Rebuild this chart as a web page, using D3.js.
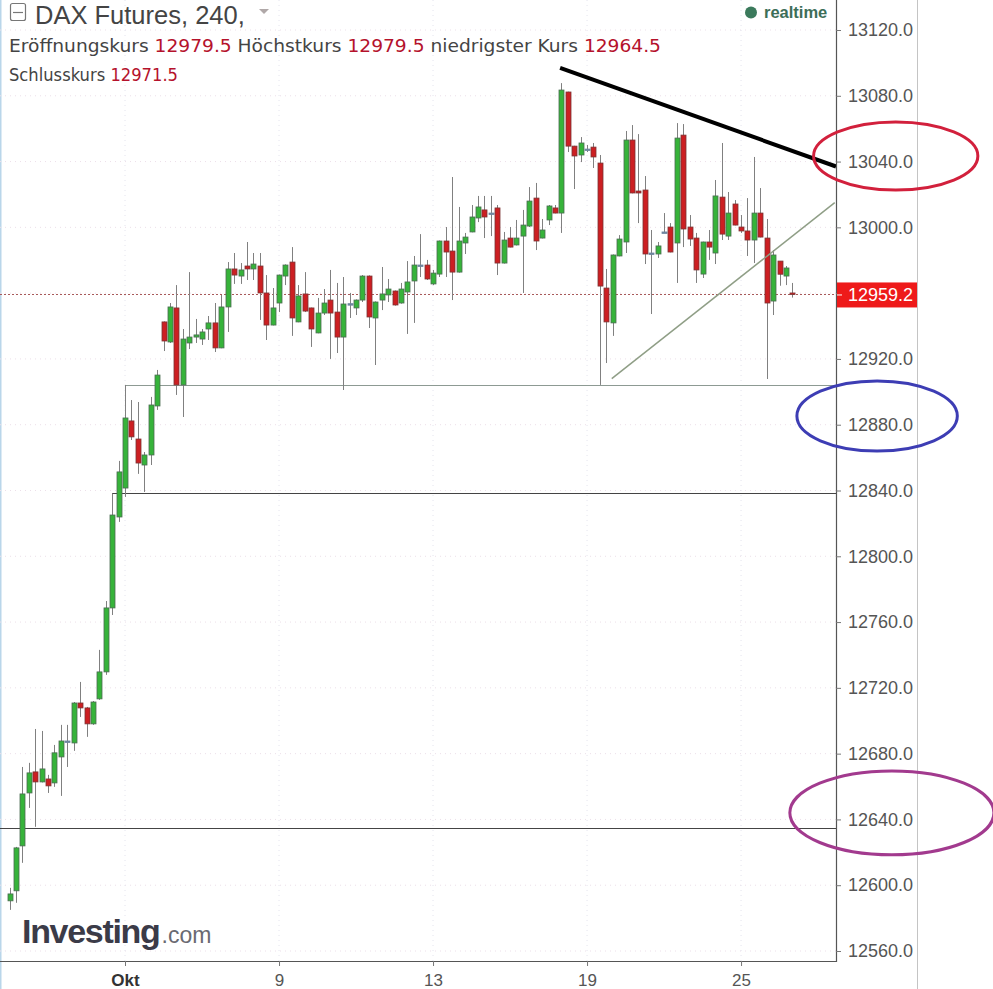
<!DOCTYPE html>
<html>
<head>
<meta charset="utf-8">
<script src="https://cdn.jsdelivr.net/npm/d3@7"></script>
<style>
  html, body { margin: 0; padding: 0; background: #fff; }
  svg { display: block; font-family: "Liberation Sans", Arial, sans-serif; }
</style>
</head>
<body>
<svg id="chart" width="993" height="989"></svg>
<script>
// ---------------- DATA ----------------
const title = "DAX Futures, 240,";
const infoLabels = ["Eröffnungskurs", "Höchstkurs", "niedrigster Kurs", "Schlusskurs"];
const infoValues = ["12979.5", "12979.5", "12964.5", "12971.5"];
const xTickIndex = [18, 42, 66, 90, 114];
const xTickLabels = ["Okt", "9", "13", "19", "25"];
const yTicks = [12560, 12600, 12640, 12680, 12720, 12760, 12800, 12840, 12880, 12920, 12960, 13000, 13040, 13080, 13120];
const lastPrice = 12959.2;

const openVals = [12590.5,12596.6,12623.9,12656.1,12668.9,12662.8,12664.6,12662.2,12678.0,12687.7,
12686.5,12710.8,12707.8,12698.1,12713.3,12729.7,12768.6,12823.9,12841.5,12882.3,
12871.3,12855.5,12861.6,12891.4,12942.5,12930.3,12951.0,12904.2,12929.7,12933.3,
12932.1,12938.2,12941.9,12926.7,12951.6,12974.7,12970.4,12976.5,12974.7,12976.5,
12960.1,12940.6,12954.0,12970.4,12978.9,12942.5,12959.5,12951.0,12935.8,12947.9,
12955.8,12948.5,12933.3,12953.6,12951.0,12955.8,12970.4,12944.9,12955.8,12958.9,
12961.3,12954.0,12960.7,12967.4,12977.1,12977.1,12965.6,12971.6,12991.7,12985.6,
12972.8,12990.5,12997.2,13005.7,13010.6,13008.7,13011.8,12978.3,12993.5,12989.3,
12994.7,13000.8,13017.8,12993.5,13004.5,13011.8,13008.7,13082.3,13049.4,13044.0,
13047.6,13048.8,13039.1,12963.1,12941.9,12982.6,12991.1,13053.1,13022.1,13022.7,
12984.4,12983.8,12997.2,13000.2,12990.5,13056.1,13000.2,12993.5,12971.6,12991.1,
12984.4,13018.4,12994.7,13014.2,13000.2,12997.8,12992.3,13008.7,12993.5,12955.2,
12979.5,12970.4,12960.1];
const highVals = [12598.4,12623.3,12671.9,12674.4,12695.0,12693.8,12667.1,12685.3,12697.5,12697.5,
12711.4,12723.6,12708.4,12712.0,12743.1,12772.8,12837.9,12858.0,12904.2,12895.0,
12893.8,12863.4,12896.9,12913.3,12942.8,12954.0,12964.9,12938.2,12972.8,12944.3,
12938.2,12946.1,12954.0,12958.9,12978.9,12984.4,12978.3,12991.1,12984.4,12984.4,
12971.0,12963.1,12971.3,12977.5,12988.0,12964.9,12972.8,12951.2,12957.1,12962.5,
12974.1,12966.2,12969.8,12960.1,12956.2,12971.0,12970.8,12955.0,12975.9,12968.6,
12961.6,12966.2,12979.5,12982.6,12995.9,12980.2,12974.1,12992.0,13000.2,13030.6,
13012.4,12996.6,13013.6,13019.1,13019.1,13019.1,13013.6,12997.2,13000.2,13004.5,
13010.6,13024.5,13027.0,13005.1,13013.6,13013.6,13087.7,13082.5,13049.6,13054.9,
13050.1,13051.3,13044.0,12974.7,12983.5,12995.3,13058.6,13062.2,13056.7,13031.2,
12998.4,12991.1,13008.7,13002.6,13063.4,13062.8,13007.5,12996.6,12991.3,12998.4,
13028.8,13051.3,13021.5,13016.6,13007.5,13017.8,13042.8,13023.9,13005.1,12986.2,
12979.5,12976.5,12966.2];
const lowVals = [12585.0,12589.3,12613.6,12647.0,12635.5,12662.5,12656.1,12659.8,12654.3,12671.9,
12681.7,12702.3,12690.2,12697.5,12712.7,12727.9,12764.3,12820.9,12836.1,12870.7,
12850.1,12839.1,12855.5,12889.0,12924.8,12929.7,12898.1,12884.7,12926.0,12929.7,
12928.5,12931.5,12924.2,12926.5,12936.4,12965.6,12965.6,12968.0,12968.0,12943.7,
12931.5,12940.4,12948.5,12964.9,12934.0,12942.3,12948.5,12927.3,12935.6,12946.7,
12920.0,12923.6,12901.1,12944.9,12946.7,12954.6,12938.8,12916.3,12949.7,12954.6,
12952.4,12953.6,12935.2,12941.9,12969.8,12968.0,12964.9,12969.8,12969.8,12955.8,
12972.5,12983.8,12997.0,13003.2,12993.5,12994.7,12971.0,12978.0,12987.8,12989.0,
12960.1,13000.2,12986.2,12993.3,13001.4,13008.5,12996.6,13045.8,13023.3,13039.7,
13045.8,13036.1,12904.2,12917.5,12934.0,12982.4,12984.4,13020.7,13002.6,12977.7,
12947.3,12981.4,12996.8,12984.8,12966.2,12988.0,12988.7,12966.2,12969.2,12980.2,
12977.7,12992.3,12992.3,13001.2,12996.6,12982.6,12978.3,12993.9,12907.8,12946.7,
12964.5,12964.9,12957.3];
const closeVals = [12594.7,12622.7,12655.5,12668.3,12662.8,12670.7,12660.4,12680.5,12687.7,12687.7,
12710.8,12707.8,12698.1,12711.4,12729.7,12768.6,12825.1,12851.3,12884.1,12872.6,
12856.7,12861.6,12892.0,12910.2,12930.9,12951.6,12904.2,12932.1,12933.3,12934.6,
12936.4,12941.9,12926.7,12951.6,12974.7,12971.0,12974.1,12974.7,12977.7,12960.1,
12940.6,12951.0,12971.0,12977.1,12944.9,12958.3,12949.1,12938.2,12947.9,12954.0,
12947.9,12933.3,12953.4,12953.6,12955.8,12970.4,12945.5,12954.6,12959.5,12962.5,
12952.8,12962.5,12966.8,12977.1,12977.1,12968.6,12972.2,12991.7,12985.0,12972.8,
12991.7,12994.1,13006.3,13012.4,13006.3,13008.7,12978.3,12992.3,12988.0,12993.5,
13001.4,13016.0,12991.7,12998.4,13013.0,13008.7,13083.5,13049.4,13043.4,13051.3,
13047.6,13042.8,12964.3,12942.5,12983.2,12992.9,13053.1,13020.9,13020.9,12983.8,
12984.4,12988.7,12997.2,12985.0,13054.3,12999.0,12992.9,12974.1,12991.1,12988.0,
13019.1,12995.9,13008.7,13001.4,12997.8,12992.3,13008.7,12994.1,12954.0,12983.2,
12971.5,12975.3,12959.2];

// annotation lines in data units (candle index, price)
const resistanceLine = [[85.8, 13097], [128.8, 13037]];
const supportLine = [[93.85, 12908], [128.6, 13015]];
const levelStarts = [18, 16, -1.5];
const levelValues = [12904.2, 12838.2, 12634.7];
// highlighted price zones on the axis (centre index, centre price, half-width in candles, half-height in points)
const zoneCenters = [[138.1, 13043.4], [135.2, 12885.3], [137.5, 12644.0]];
const zoneRadii = [[12.8, 20.7], [12.5, 21.3], [15.9, 25.5]];

// ---------------- CHART ----------------
const W = 993, H = 989;
const plotRight = 836, plotBottom = 961;
const svg = d3.select("#chart");

const x = d3.scaleLinear().domain([0, 122]).range([9.5, 792.4]);
const y = d3.scaleLinear().domain([12560, 13120]).range([951, 30]);

const candles = openVals.map((o, i) => ({i, o, h: highVals[i], l: lowVals[i], c: closeVals[i]}));

svg.append("defs").append("clipPath").attr("id", "plotclip")
  .append("rect").attr("x", 0).attr("y", 0).attr("width", plotRight).attr("height", plotBottom);

// left light border
svg.append("line").attr("x1", 0.75).attr("x2", 0.75).attr("y1", 0).attr("y2", H)
  .attr("stroke", "#b9d6ea").attr("stroke-width", 1.5);

const plot = svg.append("g").attr("clip-path", "url(#plotclip)");

// faint dotted grid
plot.selectAll("line.hgrid").data(yTicks).join("line").attr("class", "hgrid")
  .attr("x1", 0).attr("x2", plotRight).attr("y1", d => y(d)).attr("y2", d => y(d))
  .attr("stroke", "#ecdfe9").attr("stroke-dasharray", "1,4");
plot.selectAll("line.vgrid").data(xTickIndex).join("line").attr("class", "vgrid")
  .attr("x1", d => x(d)).attr("x2", d => x(d)).attr("y1", 0).attr("y2", plotBottom)
  .attr("stroke", "#e4e4ee").attr("stroke-dasharray", "1,4");

// horizontal support levels
const levelColors = ["#8d9a93", "#444", "#444"];
levelValues.forEach((v, k) => {
  plot.append("line")
    .attr("x1", x(levelStarts[k])).attr("x2", plotRight)
    .attr("y1", Math.round(y(v)) + 0.5).attr("y2", Math.round(y(v)) + 0.5)
    .attr("stroke", levelColors[k]).attr("stroke-width", 1);
});

// last price dotted line
plot.append("line").attr("x1", 0).attr("x2", plotRight)
  .attr("y1", Math.round(y(lastPrice)) + 0.5).attr("y2", Math.round(y(lastPrice)) + 0.5)
  .attr("stroke", "#a85a5a").attr("stroke-dasharray", "2,2");

// candles
const bodyW = 5;
function colorOf(d) {
  if (Math.abs(d.c - d.o) < 0.05) return "doji";
  return d.c > d.o ? "up" : "down";
}
const fills = {up: "#36b33a", down: "#cc1f22", doji: "#6f86a0"};
const strokes = {up: "#4b6b52", down: "#7a3434", doji: "#6f86a0"};

const cg = plot.append("g");
cg.selectAll("line.wick").data(candles).join("line").attr("class", "wick")
  .attr("x1", d => Math.round(x(d.i)) + 0.5).attr("x2", d => Math.round(x(d.i)) + 0.5)
  .attr("y1", d => y(d.h)).attr("y2", d => y(d.l))
  .attr("stroke", "#808080").attr("stroke-width", 1);
cg.selectAll("rect.body").data(candles).join("rect").attr("class", "body")
  .attr("x", d => Math.round(x(d.i)) + 0.5 - bodyW / 2)
  .attr("width", bodyW)
  .attr("y", d => y(Math.max(d.o, d.c)))
  .attr("height", d => Math.max(1.5, Math.abs(y(d.o) - y(d.c))))
  .attr("fill", d => fills[colorOf(d)])
  .attr("stroke", d => strokes[colorOf(d)])
  .attr("stroke-width", 0.8);

// trend lines
plot.append("line")
  .attr("x1", x(resistanceLine[0][0])).attr("y1", y(resistanceLine[0][1]))
  .attr("x2", x(resistanceLine[1][0])).attr("y2", y(resistanceLine[1][1]))
  .attr("stroke", "#000").attr("stroke-width", 4);
plot.append("line")
  .attr("x1", x(supportLine[0][0])).attr("y1", y(supportLine[0][1]))
  .attr("x2", x(supportLine[1][0])).attr("y2", y(supportLine[1][1]))
  .attr("stroke", "#8f9e86").attr("stroke-width", 1.5);

// axes frame
svg.append("line").attr("x1", plotRight + 0.5).attr("x2", plotRight + 0.5).attr("y1", 0).attr("y2", plotBottom + 1)
  .attr("stroke", "#555").attr("stroke-width", 1.2);
svg.append("line").attr("x1", 0).attr("x2", plotRight + 1).attr("y1", plotBottom + 0.5).attr("y2", plotBottom + 0.5)
  .attr("stroke", "#555").attr("stroke-width", 1.2);
svg.append("line").attr("x1", 917.5).attr("x2", 917.5).attr("y1", 0).attr("y2", H)
  .attr("stroke", "#c4c4c4").attr("stroke-width", 1);

// y axis
const yAxis = svg.append("g").attr("transform", `translate(${plotRight},0)`)
  .call(d3.axisRight(y).tickValues(yTicks).tickFormat(d => d.toFixed(1)).tickSize(5).tickPadding(7));
yAxis.select(".domain").remove();
yAxis.selectAll(".tick line").attr("stroke", "#777");
yAxis.selectAll(".tick text").attr("fill", "#555").attr("font-size", 18)
  .attr("font-family", "'Liberation Sans', Arial, sans-serif");

// x axis
const xAxis = svg.append("g").attr("transform", `translate(0,${plotBottom})`)
  .call(d3.axisBottom(x).tickValues(xTickIndex).tickFormat((d, i) => xTickLabels[i]).tickSize(5).tickPadding(8));
xAxis.select(".domain").remove();
xAxis.selectAll(".tick line").attr("stroke", "#777");
xAxis.selectAll(".tick text").attr("fill", (d, i) => i === 0 ? "#333" : "#555")
  .attr("font-weight", (d, i) => i === 0 ? "bold" : "normal")
  .attr("font-size", 17).attr("font-family", "'Liberation Sans', Arial, sans-serif");

// last price label
const lpY = y(lastPrice);
svg.append("rect").attr("x", plotRight + 1).attr("y", lpY - 12).attr("width", 80).attr("height", 25)
  .attr("fill", "#ee1a1a");
svg.append("line").attr("x1", plotRight + 1).attr("x2", plotRight + 6).attr("y1", lpY + 0.5).attr("y2", lpY + 0.5)
  .attr("stroke", "#fff");
svg.append("text").attr("x", 848).attr("y", lpY + 6.5).attr("fill", "#fff").attr("font-size", 18)
  .text(lastPrice.toFixed(1));

// ellipses
const zoneColors = ["#d2203c", "#3d3db4", "#a23a8e"];
zoneCenters.forEach((c, k) => {
  svg.append("ellipse")
    .attr("cx", x(c[0])).attr("cy", y(c[1]))
    .attr("rx", x(c[0] + zoneRadii[k][0]) - x(c[0]))
    .attr("ry", y(c[1] - zoneRadii[k][1]) - y(c[1]))
    .attr("fill", "none").attr("stroke", zoneColors[k]).attr("stroke-width", 3);
});

// header
const hdr = svg.append("g");
hdr.append("rect").attr("x", 10.5).attr("y", 3.5).attr("width", 15).attr("height", 17).attr("rx", 2)
  .attr("fill", "none").attr("stroke", "#777").attr("stroke-width", 1.2);
hdr.append("line").attr("x1", 13).attr("x2", 23).attr("y1", 12.5).attr("y2", 12.5).attr("stroke", "#777").attr("stroke-width", 1.2);
hdr.append("text").attr("x", 35).attr("y", 24).attr("font-size", 25.5).attr("fill", "#444").text(title);
hdr.append("path").attr("d", "M259,9 L269,9 L264,14 Z").attr("fill", "#b0a8a8");

const line2 = hdr.append("text").attr("x", 9).attr("y", 52).attr("font-size", 17.5)
  .attr("font-family", "'DejaVu Sans', Verdana, sans-serif")
  .attr("textLength", 652).attr("lengthAdjust", "spacingAndGlyphs");
[0, 1, 2].forEach(k => {
  line2.append("tspan").attr("fill", "#444").text((k ? " " : "") + infoLabels[k] + " ");
  line2.append("tspan").attr("fill", "#b5122c").text(infoValues[k]);
});
const line3 = hdr.append("text").attr("x", 9).attr("y", 81).attr("font-size", 17.5)
  .attr("font-family", "'DejaVu Sans', Verdana, sans-serif")
  .attr("textLength", 169).attr("lengthAdjust", "spacingAndGlyphs");
line3.append("tspan").attr("fill", "#444").text(infoLabels[3] + " ");
line3.append("tspan").attr("fill", "#b5122c").text(infoValues[3]);

hdr.append("circle").attr("cx", 751).attr("cy", 12.5).attr("r", 6).attr("fill", "#3b7a5c");
hdr.append("text").attr("x", 764).attr("y", 18).attr("font-size", 16.5).attr("font-weight", "bold")
  .attr("fill", "#3d6e58").text("realtime");

// watermark logo
const logo = svg.append("text").attr("x", 22).attr("y", 943);
logo.append("tspan").attr("font-size", 34).attr("font-weight", "bold").attr("fill", "#3b3b48")
  .attr("letter-spacing", -1.3).text("Investing");
logo.append("tspan").attr("font-size", 23).attr("fill", "#6a6a72").attr("dx", 2).text(".com");
</script>
</body>
</html>
